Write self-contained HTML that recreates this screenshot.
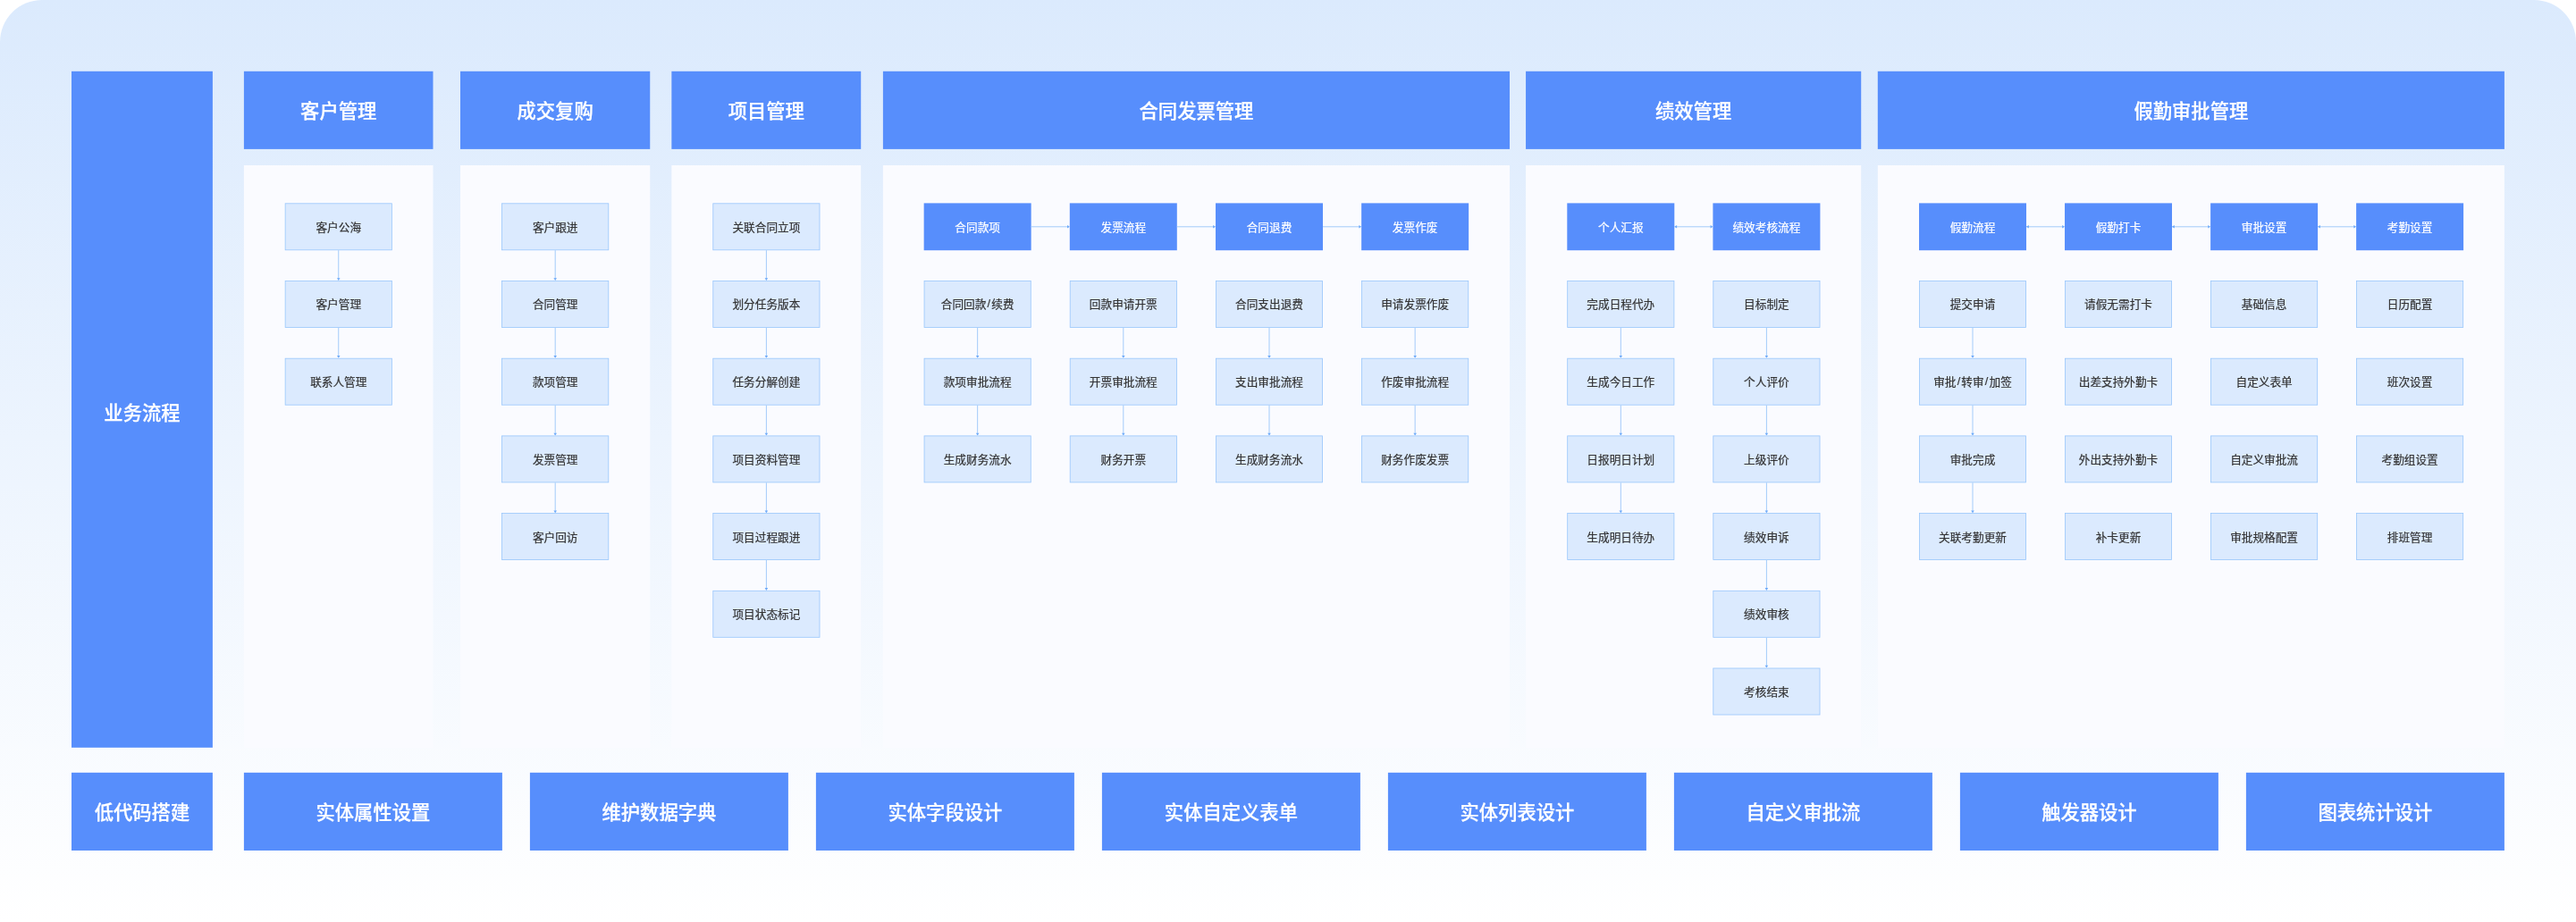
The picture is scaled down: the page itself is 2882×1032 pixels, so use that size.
<!DOCTYPE html>
<html lang="zh-CN">
<head>
<meta charset="utf-8">
<title>业务流程</title>
<style>
html,body{margin:0;padding:0;background:#fff;}
body{width:2882px;height:1032px;position:relative;overflow:hidden;font-family:"Liberation Sans", "Noto Sans CJK SC", sans-serif;}
.bg{position:absolute;left:0;top:0;width:2882px;height:1032px;border-radius:47px 47px 0 0;background:linear-gradient(180deg,#dbeafd 0px,#ffffff 1032px);}
.wrap{position:absolute;left:0;top:0;width:2882px;height:1032px;will-change:transform;}
.t{position:absolute;color:#fff;display:flex;align-items:center;justify-content:center;font-size:21.3px;font-weight:500;-webkit-text-stroke:0.25px #fff;white-space:nowrap;box-sizing:border-box;}
.hd{padding-bottom:2px;}
.bt{padding-bottom:2px;}
.sd{padding-top:3.5px;}
.b{position:absolute;width:120px;height:52.8px;box-sizing:border-box;display:flex;align-items:center;justify-content:center;font-size:12.65px;white-space:nowrap;padding-bottom:1px;}
.b i{font-style:normal;margin:0 1.2px;}
.l{color:#333;-webkit-text-stroke:0.2px #333;}
.d{color:#fff;-webkit-text-stroke:0.2px #fff;}
svg{position:absolute;left:0;top:0;}
</style>
</head>
<body>
<div class="bg"></div>
<div class="wrap">
<svg width="2882" height="1032" viewBox="0 0 2882 1032">
<g fill="#fafbff">
<rect x="272.9" y="185" width="211.6" height="651.8"/>
<rect x="515" y="185" width="212.25" height="651.8"/>
<rect x="751.35" y="185" width="211.85" height="651.8"/>
<rect x="987.9" y="185" width="701.1" height="651.8"/>
<rect x="1707.05" y="185" width="375.15" height="651.8"/>
<rect x="2100.8" y="185" width="701.1" height="651.8"/>
</g>
<g fill="#578efc">
<rect x="80" y="79.8" width="157.9" height="757"/>
<rect x="272.9" y="79.8" width="211.6" height="87.1"/>
<rect x="515" y="79.8" width="212.25" height="87.1"/>
<rect x="751.35" y="79.8" width="211.85" height="87.1"/>
<rect x="987.9" y="79.8" width="701.1" height="87.1"/>
<rect x="1707.05" y="79.8" width="375.15" height="87.1"/>
<rect x="2100.8" y="79.8" width="701.1" height="87.1"/>
<rect x="80" y="864.8" width="157.9" height="87.2"/>
<rect x="272.9" y="864.8" width="289" height="87.2"/>
<rect x="592.9" y="864.8" width="289" height="87.2"/>
<rect x="912.9" y="864.8" width="289" height="87.2"/>
<rect x="1232.9" y="864.8" width="289" height="87.2"/>
<rect x="1552.9" y="864.8" width="289" height="87.2"/>
<rect x="1872.9" y="864.8" width="289" height="87.2"/>
<rect x="2192.9" y="864.8" width="289" height="87.2"/>
<rect x="2512.9" y="864.8" width="289" height="87.2"/>
<rect x="1033.65" y="227.4" width="120" height="52.8"/>
<rect x="1196.8" y="227.4" width="120" height="52.8"/>
<rect x="1360" y="227.4" width="120" height="52.8"/>
<rect x="1523.15" y="227.4" width="120" height="52.8"/>
<rect x="1753.3" y="227.4" width="120" height="52.8"/>
<rect x="1916.4" y="227.4" width="120" height="52.8"/>
<rect x="2147" y="227.4" width="120" height="52.8"/>
<rect x="2310" y="227.4" width="120" height="52.8"/>
<rect x="2473.1" y="227.4" width="120" height="52.8"/>
<rect x="2636.1" y="227.4" width="120" height="52.8"/>
</g>
<g stroke="#a3cbfa" stroke-width="1" fill="#6eaaf9">
<path d="M378.75 280.2V313.1" fill="none"/><path d="M378.75 314.1l-1.8 -2.8h3.6z" stroke="none"/>
<path d="M378.75 366.9V399.8" fill="none"/><path d="M378.75 400.8l-1.8 -2.8h3.6z" stroke="none"/>
<path d="M621.2 280.2V313.1" fill="none"/><path d="M621.2 314.1l-1.8 -2.8h3.6z" stroke="none"/>
<path d="M621.2 366.9V399.8" fill="none"/><path d="M621.2 400.8l-1.8 -2.8h3.6z" stroke="none"/>
<path d="M621.2 453.6V486.5" fill="none"/><path d="M621.2 487.5l-1.8 -2.8h3.6z" stroke="none"/>
<path d="M621.2 540.3V573.2" fill="none"/><path d="M621.2 574.2l-1.8 -2.8h3.6z" stroke="none"/>
<path d="M857.4 280.2V313.1" fill="none"/><path d="M857.4 314.1l-1.8 -2.8h3.6z" stroke="none"/>
<path d="M857.4 366.9V399.8" fill="none"/><path d="M857.4 400.8l-1.8 -2.8h3.6z" stroke="none"/>
<path d="M857.4 453.6V486.5" fill="none"/><path d="M857.4 487.5l-1.8 -2.8h3.6z" stroke="none"/>
<path d="M857.4 540.3V573.2" fill="none"/><path d="M857.4 574.2l-1.8 -2.8h3.6z" stroke="none"/>
<path d="M857.4 627V659.9" fill="none"/><path d="M857.4 660.9l-1.8 -2.8h3.6z" stroke="none"/>
<path d="M1093.65 366.9V399.8" fill="none"/><path d="M1093.65 400.8l-1.8 -2.8h3.6z" stroke="none"/>
<path d="M1093.65 453.6V486.5" fill="none"/><path d="M1093.65 487.5l-1.8 -2.8h3.6z" stroke="none"/>
<path d="M1256.8 366.9V399.8" fill="none"/><path d="M1256.8 400.8l-1.8 -2.8h3.6z" stroke="none"/>
<path d="M1256.8 453.6V486.5" fill="none"/><path d="M1256.8 487.5l-1.8 -2.8h3.6z" stroke="none"/>
<path d="M1420 366.9V399.8" fill="none"/><path d="M1420 400.8l-1.8 -2.8h3.6z" stroke="none"/>
<path d="M1420 453.6V486.5" fill="none"/><path d="M1420 487.5l-1.8 -2.8h3.6z" stroke="none"/>
<path d="M1583.15 366.9V399.8" fill="none"/><path d="M1583.15 400.8l-1.8 -2.8h3.6z" stroke="none"/>
<path d="M1583.15 453.6V486.5" fill="none"/><path d="M1583.15 487.5l-1.8 -2.8h3.6z" stroke="none"/>
<path d="M1813.3 366.9V399.8" fill="none"/><path d="M1813.3 400.8l-1.8 -2.8h3.6z" stroke="none"/>
<path d="M1813.3 453.6V486.5" fill="none"/><path d="M1813.3 487.5l-1.8 -2.8h3.6z" stroke="none"/>
<path d="M1813.3 540.3V573.2" fill="none"/><path d="M1813.3 574.2l-1.8 -2.8h3.6z" stroke="none"/>
<path d="M1976.4 366.9V399.8" fill="none"/><path d="M1976.4 400.8l-1.8 -2.8h3.6z" stroke="none"/>
<path d="M1976.4 453.6V486.5" fill="none"/><path d="M1976.4 487.5l-1.8 -2.8h3.6z" stroke="none"/>
<path d="M1976.4 540.3V573.2" fill="none"/><path d="M1976.4 574.2l-1.8 -2.8h3.6z" stroke="none"/>
<path d="M1976.4 627V659.9" fill="none"/><path d="M1976.4 660.9l-1.8 -2.8h3.6z" stroke="none"/>
<path d="M1976.4 713.7V746.6" fill="none"/><path d="M1976.4 747.6l-1.8 -2.8h3.6z" stroke="none"/>
<path d="M2207 366.9V399.8" fill="none"/><path d="M2207 400.8l-1.8 -2.8h3.6z" stroke="none"/>
<path d="M2207 453.6V486.5" fill="none"/><path d="M2207 487.5l-1.8 -2.8h3.6z" stroke="none"/>
<path d="M2207 540.3V573.2" fill="none"/><path d="M2207 574.2l-1.8 -2.8h3.6z" stroke="none"/>
<path d="M1153.65 253.8H1195.8" fill="none"/><path d="M1196.8 253.8l-2.8 -1.8v3.6z" stroke="none"/>
<path d="M1316.8 253.8H1359" fill="none"/><path d="M1360 253.8l-2.8 -1.8v3.6z" stroke="none"/>
<path d="M1480 253.8H1522.15" fill="none"/><path d="M1523.15 253.8l-2.8 -1.8v3.6z" stroke="none"/>
<path d="M1873.3 253.8H1915.4" fill="none"/><path d="M1916.4 253.8l-2.8 -1.8v3.6z" stroke="none"/>
<path d="M1873.3 253.8l2.8 -1.8v3.6z" stroke="none"/>
<path d="M2267 253.8H2309" fill="none"/><path d="M2310 253.8l-2.8 -1.8v3.6z" stroke="none"/>
<path d="M2267 253.8l2.8 -1.8v3.6z" stroke="none"/>
<path d="M2430 253.8H2472.1" fill="none"/><path d="M2473.1 253.8l-2.8 -1.8v3.6z" stroke="none"/>
<path d="M2430 253.8l2.8 -1.8v3.6z" stroke="none"/>
<path d="M2593.1 253.8H2635.1" fill="none"/><path d="M2636.1 253.8l-2.8 -1.8v3.6z" stroke="none"/>
<path d="M2593.1 253.8l2.8 -1.8v3.6z" stroke="none"/>
</g>
<g fill="#dbeafe" stroke="#98c6fc" stroke-width="0.8">
<rect x="319.15" y="227.8" width="119.2" height="52"/>
<rect x="319.15" y="314.5" width="119.2" height="52"/>
<rect x="319.15" y="401.2" width="119.2" height="52"/>
<rect x="561.6" y="227.8" width="119.2" height="52"/>
<rect x="561.6" y="314.5" width="119.2" height="52"/>
<rect x="561.6" y="401.2" width="119.2" height="52"/>
<rect x="561.6" y="487.9" width="119.2" height="52"/>
<rect x="561.6" y="574.6" width="119.2" height="52"/>
<rect x="797.8" y="227.8" width="119.2" height="52"/>
<rect x="797.8" y="314.5" width="119.2" height="52"/>
<rect x="797.8" y="401.2" width="119.2" height="52"/>
<rect x="797.8" y="487.9" width="119.2" height="52"/>
<rect x="797.8" y="574.6" width="119.2" height="52"/>
<rect x="797.8" y="661.3" width="119.2" height="52"/>
<rect x="1034.05" y="314.5" width="119.2" height="52"/>
<rect x="1034.05" y="401.2" width="119.2" height="52"/>
<rect x="1034.05" y="487.9" width="119.2" height="52"/>
<rect x="1197.2" y="314.5" width="119.2" height="52"/>
<rect x="1197.2" y="401.2" width="119.2" height="52"/>
<rect x="1197.2" y="487.9" width="119.2" height="52"/>
<rect x="1360.4" y="314.5" width="119.2" height="52"/>
<rect x="1360.4" y="401.2" width="119.2" height="52"/>
<rect x="1360.4" y="487.9" width="119.2" height="52"/>
<rect x="1523.55" y="314.5" width="119.2" height="52"/>
<rect x="1523.55" y="401.2" width="119.2" height="52"/>
<rect x="1523.55" y="487.9" width="119.2" height="52"/>
<rect x="1753.7" y="314.5" width="119.2" height="52"/>
<rect x="1753.7" y="401.2" width="119.2" height="52"/>
<rect x="1753.7" y="487.9" width="119.2" height="52"/>
<rect x="1753.7" y="574.6" width="119.2" height="52"/>
<rect x="1916.8" y="314.5" width="119.2" height="52"/>
<rect x="1916.8" y="401.2" width="119.2" height="52"/>
<rect x="1916.8" y="487.9" width="119.2" height="52"/>
<rect x="1916.8" y="574.6" width="119.2" height="52"/>
<rect x="1916.8" y="661.3" width="119.2" height="52"/>
<rect x="1916.8" y="748" width="119.2" height="52"/>
<rect x="2147.4" y="314.5" width="119.2" height="52"/>
<rect x="2147.4" y="401.2" width="119.2" height="52"/>
<rect x="2147.4" y="487.9" width="119.2" height="52"/>
<rect x="2147.4" y="574.6" width="119.2" height="52"/>
<rect x="2310.4" y="314.5" width="119.2" height="52"/>
<rect x="2310.4" y="401.2" width="119.2" height="52"/>
<rect x="2310.4" y="487.9" width="119.2" height="52"/>
<rect x="2310.4" y="574.6" width="119.2" height="52"/>
<rect x="2473.5" y="314.5" width="119.2" height="52"/>
<rect x="2473.5" y="401.2" width="119.2" height="52"/>
<rect x="2473.5" y="487.9" width="119.2" height="52"/>
<rect x="2473.5" y="574.6" width="119.2" height="52"/>
<rect x="2636.5" y="314.5" width="119.2" height="52"/>
<rect x="2636.5" y="401.2" width="119.2" height="52"/>
<rect x="2636.5" y="487.9" width="119.2" height="52"/>
<rect x="2636.5" y="574.6" width="119.2" height="52"/>
</g>
</svg>
<div class="t sd" style="left:80px;top:79.8px;width:157.9px;height:757px;">业务流程</div>
<div class="t hd" style="left:272.9px;top:79.8px;width:211.6px;height:87.1px;">客户管理</div>
<div class="t hd" style="left:515px;top:79.8px;width:212.25px;height:87.1px;">成交复购</div>
<div class="t hd" style="left:751.35px;top:79.8px;width:211.85px;height:87.1px;">项目管理</div>
<div class="t hd" style="left:987.9px;top:79.8px;width:701.1px;height:87.1px;">合同发票管理</div>
<div class="t hd" style="left:1707.05px;top:79.8px;width:375.15px;height:87.1px;">绩效管理</div>
<div class="t hd" style="left:2100.8px;top:79.8px;width:701.1px;height:87.1px;">假勤审批管理</div>
<div class="b l" style="left:318.75px;top:227.4px;">客户公海</div>
<div class="b l" style="left:318.75px;top:314.1px;">客户管理</div>
<div class="b l" style="left:318.75px;top:400.8px;">联系人管理</div>
<div class="b l" style="left:561.2px;top:227.4px;">客户跟进</div>
<div class="b l" style="left:561.2px;top:314.1px;">合同管理</div>
<div class="b l" style="left:561.2px;top:400.8px;">款项管理</div>
<div class="b l" style="left:561.2px;top:487.5px;">发票管理</div>
<div class="b l" style="left:561.2px;top:574.2px;">客户回访</div>
<div class="b l" style="left:797.4px;top:227.4px;">关联合同立项</div>
<div class="b l" style="left:797.4px;top:314.1px;">划分任务版本</div>
<div class="b l" style="left:797.4px;top:400.8px;">任务分解创建</div>
<div class="b l" style="left:797.4px;top:487.5px;">项目资料管理</div>
<div class="b l" style="left:797.4px;top:574.2px;">项目过程跟进</div>
<div class="b l" style="left:797.4px;top:660.9px;">项目状态标记</div>
<div class="b d" style="left:1033.65px;top:227.4px;">合同款项</div>
<div class="b l" style="left:1033.65px;top:314.1px;">合同回款<i>/</i>续费</div>
<div class="b l" style="left:1033.65px;top:400.8px;">款项审批流程</div>
<div class="b l" style="left:1033.65px;top:487.5px;">生成财务流水</div>
<div class="b d" style="left:1196.8px;top:227.4px;">发票流程</div>
<div class="b l" style="left:1196.8px;top:314.1px;">回款申请开票</div>
<div class="b l" style="left:1196.8px;top:400.8px;">开票审批流程</div>
<div class="b l" style="left:1196.8px;top:487.5px;">财务开票</div>
<div class="b d" style="left:1360px;top:227.4px;">合同退费</div>
<div class="b l" style="left:1360px;top:314.1px;">合同支出退费</div>
<div class="b l" style="left:1360px;top:400.8px;">支出审批流程</div>
<div class="b l" style="left:1360px;top:487.5px;">生成财务流水</div>
<div class="b d" style="left:1523.15px;top:227.4px;">发票作废</div>
<div class="b l" style="left:1523.15px;top:314.1px;">申请发票作废</div>
<div class="b l" style="left:1523.15px;top:400.8px;">作废审批流程</div>
<div class="b l" style="left:1523.15px;top:487.5px;">财务作废发票</div>
<div class="b d" style="left:1753.3px;top:227.4px;">个人汇报</div>
<div class="b l" style="left:1753.3px;top:314.1px;">完成日程代办</div>
<div class="b l" style="left:1753.3px;top:400.8px;">生成今日工作</div>
<div class="b l" style="left:1753.3px;top:487.5px;">日报明日计划</div>
<div class="b l" style="left:1753.3px;top:574.2px;">生成明日待办</div>
<div class="b d" style="left:1916.4px;top:227.4px;">绩效考核流程</div>
<div class="b l" style="left:1916.4px;top:314.1px;">目标制定</div>
<div class="b l" style="left:1916.4px;top:400.8px;">个人评价</div>
<div class="b l" style="left:1916.4px;top:487.5px;">上级评价</div>
<div class="b l" style="left:1916.4px;top:574.2px;">绩效申诉</div>
<div class="b l" style="left:1916.4px;top:660.9px;">绩效审核</div>
<div class="b l" style="left:1916.4px;top:747.6px;">考核结束</div>
<div class="b d" style="left:2147px;top:227.4px;">假勤流程</div>
<div class="b l" style="left:2147px;top:314.1px;">提交申请</div>
<div class="b l" style="left:2147px;top:400.8px;">审批<i>/</i>转审<i>/</i>加签</div>
<div class="b l" style="left:2147px;top:487.5px;">审批完成</div>
<div class="b l" style="left:2147px;top:574.2px;">关联考勤更新</div>
<div class="b d" style="left:2310px;top:227.4px;">假勤打卡</div>
<div class="b l" style="left:2310px;top:314.1px;">请假无需打卡</div>
<div class="b l" style="left:2310px;top:400.8px;">出差支持外勤卡</div>
<div class="b l" style="left:2310px;top:487.5px;">外出支持外勤卡</div>
<div class="b l" style="left:2310px;top:574.2px;">补卡更新</div>
<div class="b d" style="left:2473.1px;top:227.4px;">审批设置</div>
<div class="b l" style="left:2473.1px;top:314.1px;">基础信息</div>
<div class="b l" style="left:2473.1px;top:400.8px;">自定义表单</div>
<div class="b l" style="left:2473.1px;top:487.5px;">自定义审批流</div>
<div class="b l" style="left:2473.1px;top:574.2px;">审批规格配置</div>
<div class="b d" style="left:2636.1px;top:227.4px;">考勤设置</div>
<div class="b l" style="left:2636.1px;top:314.1px;">日历配置</div>
<div class="b l" style="left:2636.1px;top:400.8px;">班次设置</div>
<div class="b l" style="left:2636.1px;top:487.5px;">考勤组设置</div>
<div class="b l" style="left:2636.1px;top:574.2px;">排班管理</div>
<div class="t bt" style="left:80px;top:864.8px;width:157.9px;height:87.2px;">低代码搭建</div>
<div class="t bt" style="left:272.9px;top:864.8px;width:289px;height:87.2px;">实体属性设置</div>
<div class="t bt" style="left:592.9px;top:864.8px;width:289px;height:87.2px;">维护数据字典</div>
<div class="t bt" style="left:912.9px;top:864.8px;width:289px;height:87.2px;">实体字段设计</div>
<div class="t bt" style="left:1232.9px;top:864.8px;width:289px;height:87.2px;">实体自定义表单</div>
<div class="t bt" style="left:1552.9px;top:864.8px;width:289px;height:87.2px;">实体列表设计</div>
<div class="t bt" style="left:1872.9px;top:864.8px;width:289px;height:87.2px;">自定义审批流</div>
<div class="t bt" style="left:2192.9px;top:864.8px;width:289px;height:87.2px;">触发器设计</div>
<div class="t bt" style="left:2512.9px;top:864.8px;width:289px;height:87.2px;">图表统计设计</div>
</div>
</body>
</html>
